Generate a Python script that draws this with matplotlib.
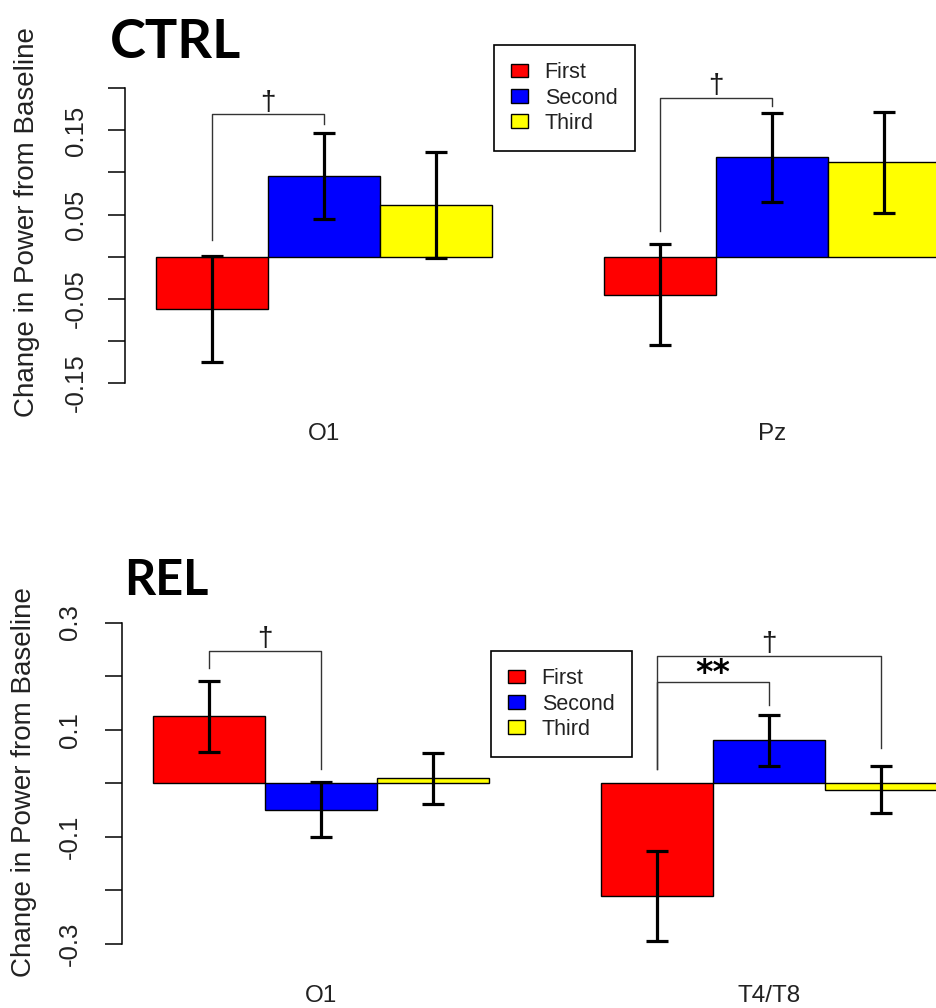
import numpy as np
import matplotlib.pyplot as plt
from matplotlib.patches import Patch

plt.rcParams['font.family'] = ['Liberation Sans', 'DejaVu Sans']

W, H = 936, 1008

conditions = ['First', 'Second', 'Third']
colors = ['#ff0000', '#0000ff', '#ffff00']

# CTRL group
ctrl_sites = ['O1', 'Pz']
ctrl_first = [-0.062, -0.045]
ctrl_second = [0.096, 0.118]
ctrl_third = [0.061, 0.112]
ctrl_first_se = [0.063, 0.060]
ctrl_second_se = [0.051, 0.053]
ctrl_third_se = [0.063, 0.060]

# REL group
rel_sites = ['O1', 'T4/T8']
rel_first = [0.125, -0.211]
rel_second = [-0.049, 0.080]
rel_third = [0.009, -0.012]
rel_first_se = [0.066, 0.084]
rel_second_se = [0.052, 0.048]
rel_third_se = [0.047, 0.044]

# significance brackets: (site, bar a, bar b, foot a, top, foot b, mark)
ctrl_sig = [(0, 0, 1, 0.020, 0.169, 0.158, '\u2020'),
            (1, 0, 1, 0.030, 0.189, 0.179, '\u2020')]
rel_sig = [(0, 0, 1, 0.216, 0.247, 0.027, '\u2020'),
           (1, 0, 2, 0.027, 0.2375, 0.066, '\u2020'),
           (1, 0, 1, 0.027, 0.189, 0.146, '**')]


def px(x, y):
    return x / W, 1 - y / H


fig = plt.figure(figsize=(W / 100, H / 100), dpi=100)


def panel(box, ylim, ticks, ticklabels, sites, means, ses, sig,
          title, title_pos, title_size, leg_pos, ylab_pos, xpad, ypad):
    x0, y0, x1, y1 = box
    ax = fig.add_axes([x0 / W, 1 - y1 / H, (x1 - x0) / W, (y1 - y0) / H])
    ax.set_facecolor('none')
    n = len(sites)
    # like R barplot(beside=TRUE): width 1, one bar of space between groups
    for j in range(3):
        centers = 1.5 + np.arange(n) * 4 + j
        ax.bar(centers, means[j], width=1, color=colors[j],
               edgecolor='black', linewidth=1, zorder=2)
        ax.errorbar(centers, means[j], yerr=ses[j], fmt='none', ecolor='black',
                    elinewidth=2.3, capsize=7.8, capthick=2.3, zorder=3)

    for site, a, b, ya, top, yb, mark in sig:
        xa = 1.5 + site * 4 + a
        xb = 1.5 + site * 4 + b
        ax.plot([xa, xa, xb, xb], [ya, top, top, yb], color='#333333',
                lw=1, clip_on=False, zorder=4)
        if mark == '**':
            ax.annotate(mark, xy=((xa + xb) / 2, top), xytext=(0, -6),
                        textcoords='offset points', ha='center', va='bottom',
                        fontsize=24, fontweight='bold', family='DejaVu Sans',
                        annotation_clip=False)
        else:
            ax.annotate(mark, xy=((xa + xb) / 2, top), xytext=(0, -1),
                        textcoords='offset points', ha='center', va='bottom',
                        fontsize=20, color='#1a1a1a', annotation_clip=False)

    ax.set_xlim(0.72, 0.72 + (x1 - x0) / 112)
    ax.set_ylim(*ylim)
    for s in ['top', 'right', 'bottom']:
        ax.spines[s].set_visible(False)
    ax.spines['left'].set_bounds(ticks[0], ticks[-1])
    ax.spines['left'].set_linewidth(1.1)
    ax.set_yticks(ticks)
    ax.set_yticklabels(ticklabels)
    ax.tick_params(axis='y', length=12, width=1.1, labelsize=18.5, pad=ypad,
                   labelcolor='#222222')
    for lab in ax.get_yticklabels():
        lab.set_rotation(90)
        lab.set_va('center')
    ax.set_xticks(1.5 + np.arange(n) * 4 + 1)
    ax.set_xticklabels(sites)
    ax.tick_params(axis='x', length=0, labelsize=17.5, pad=xpad,
                   labelcolor='#222222')

    fig.text(*px(*ylab_pos), 'Change in Power from Baseline', rotation=90,
             ha='center', va='center', fontsize=20, color='#222222')
    fig.text(*px(*title_pos), title, ha='left', va='baseline',
             fontsize=title_size, fontweight='bold', family='Lato')

    handles = [Patch(facecolor=c, edgecolor='black', linewidth=1) for c in colors]
    leg = ax.legend(handles, conditions, loc='upper left',
                    bbox_to_anchor=px(*leg_pos), bbox_transform=fig.transFigure,
                    fontsize=15.5, fancybox=False, edgecolor='black', framealpha=1,
                    borderaxespad=0, handlelength=0.8, handleheight=0.6,
                    handletextpad=0.75, labelspacing=0.2, borderpad=0.8)
    leg.get_frame().set_linewidth(1.2)
    for t in leg.get_texts():
        t.set_color('#222222')
    return ax


panel((125, 60, 936, 400), (-0.1702, 0.2336),
      [-0.15, -0.10, -0.05, 0.0, 0.05, 0.10, 0.15, 0.20],
      ['-0.15', '', '-0.05', '', '0.05', '', '0.15', ''],
      ctrl_sites, [ctrl_first, ctrl_second, ctrl_third],
      [ctrl_first_se, ctrl_second_se, ctrl_third_se], ctrl_sig,
      'CTRL', (110, 58), 39, (494, 45), (27, 222), 16.5, 15)

panel((121.7, 600, 936, 960), (-0.3297, 0.342),
      [-0.3, -0.2, -0.1, 0.0, 0.1, 0.2, 0.3],
      ['-0.3', '', '-0.1', '', '0.1', '', '0.3'],
      rel_sites, [rel_first, rel_second, rel_third],
      [rel_first_se, rel_second_se, rel_third_se], rel_sig,
      'REL', (124, 595), 35, (491, 651), (24, 782), 18, 16.5)

fig.savefig('out.png', dpi=100)
